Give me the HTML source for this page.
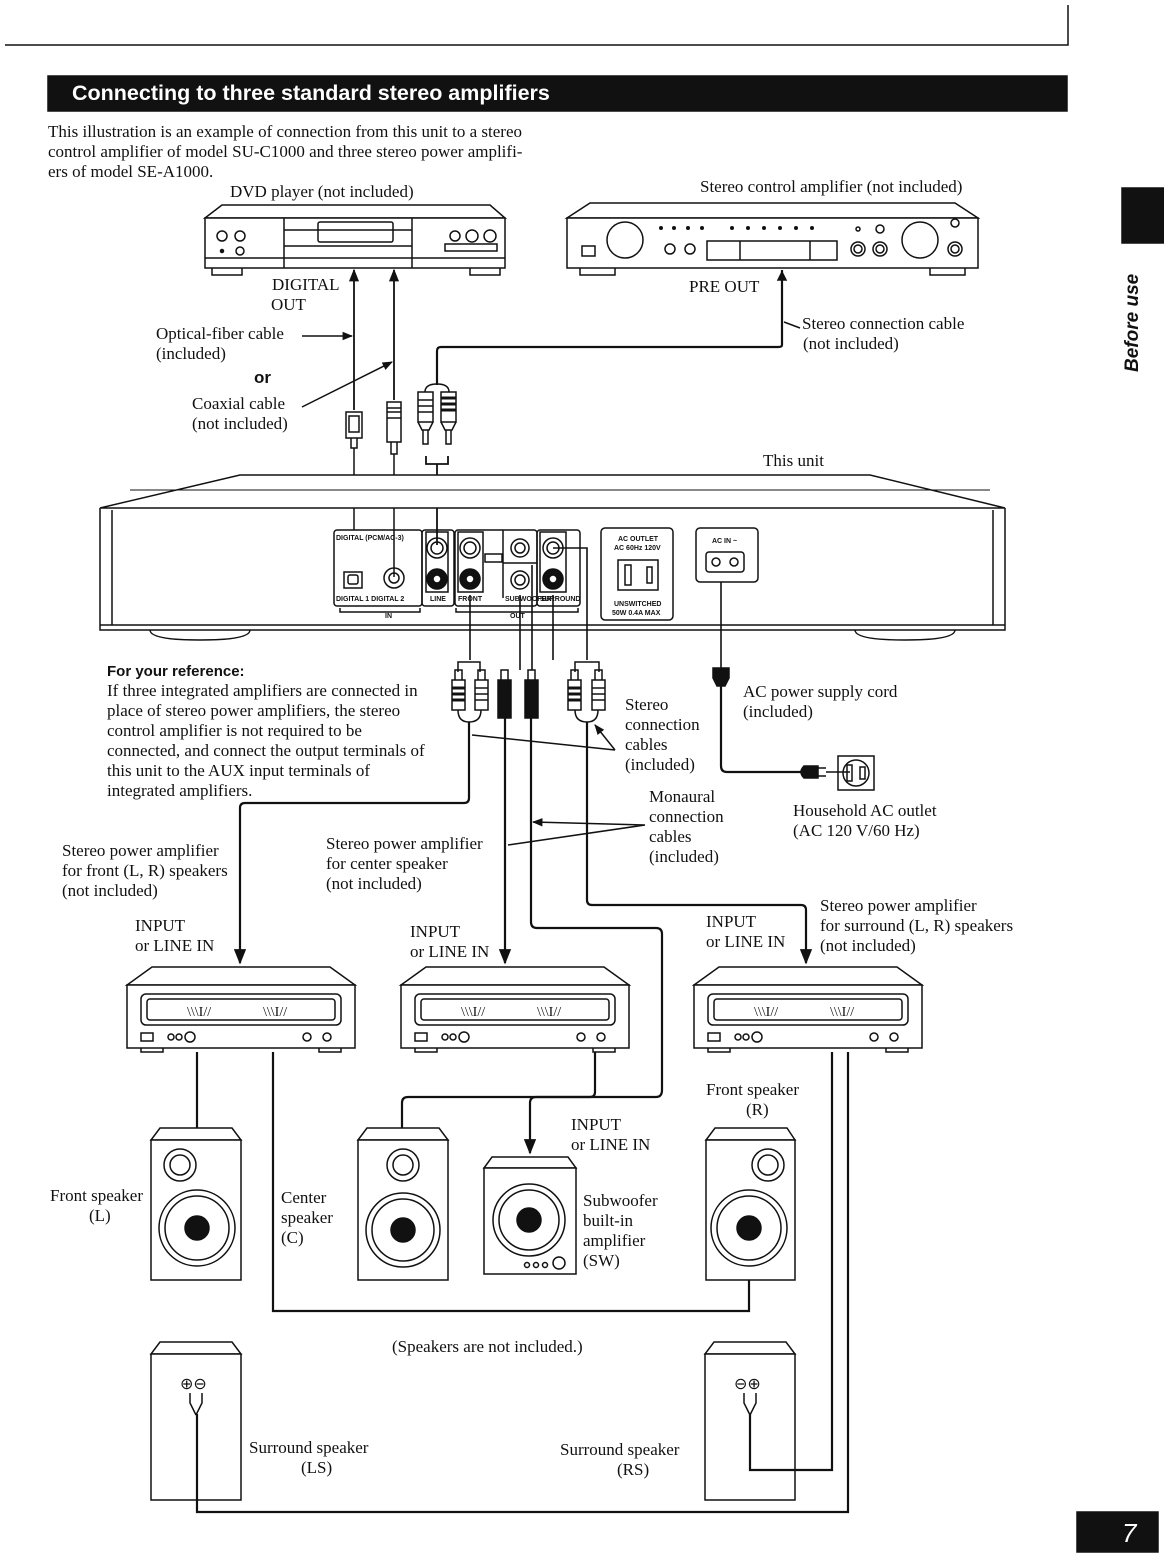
<!DOCTYPE html>
<html><head><meta charset="utf-8"><style>
html,body{margin:0;padding:0;background:#fff}
svg{display:block}
text{font-family:"Liberation Serif",serif;font-size:17px;fill:#111;stroke:none}
.s{font-family:"Liberation Sans",sans-serif}
.m{font-family:"Liberation Sans",sans-serif;font-size:7px;font-weight:bold}
</style></head><body>
<svg width="1164" height="1568" viewBox="0 0 1164 1568" xmlns="http://www.w3.org/2000/svg" fill="none" stroke="#111" stroke-width="1.5">
<defs>
<marker id="ar" viewBox="0 0 10 10" refX="9" refY="5" markerWidth="7" markerHeight="7" orient="auto-start-reverse"><path d="M0,1 L10,5 L0,9z" fill="#111" stroke="none"/></marker>
<g id="amp">
<path d="M25,0 H203 L228,18 H0 Z" fill="#fff"/>
<rect x="0" y="18" width="228" height="63" fill="#fff"/>
<rect x="14" y="27" width="200" height="31" rx="5"/>
<rect x="20" y="32" width="188" height="21" rx="3"/>
<text x="60" y="49" style="font-size:14px">\\\I//</text>
<text x="136" y="49" style="font-size:14px">\\\I//</text>
<rect x="14" y="66" width="12" height="8"/>
<circle cx="44" cy="70" r="3"/><circle cx="52" cy="70" r="3"/><circle cx="63" cy="70" r="5"/>
<circle cx="180" cy="70" r="4"/><circle cx="200" cy="70" r="4"/>
<path d="M14,81 v4 h22 v-4 M192,81 v4 h22 v-4"/>
</g>
</defs>

<!-- header -->
<path d="M5,45 H1068 V5"/>
<rect x="48" y="76" width="1019" height="35" fill="#111"/>
<text x="72" y="100" class="s" style="font-size:21.5px;font-weight:bold;fill:#fff">Connecting to three standard stereo amplifiers</text>
<text x="48" y="137" style="font-size:17px">This illustration is an example of connection from this unit to a stereo</text>
<text x="48" y="157" style="font-size:17px">control amplifier of model SU-C1000 and three stereo power amplifi-</text>
<text x="48" y="177" style="font-size:17px">ers of model SE-A1000.</text>
<rect x="1122" y="188" width="42" height="55" fill="#111"/>
<text transform="translate(1138,372) rotate(-90)" class="s" style="font-size:19px;font-weight:bold;font-style:italic">Before use</text>
<rect x="1077" y="1512" width="81" height="40" fill="#111"/>
<text x="1122" y="1542" class="s" style="font-size:26px;font-style:italic;fill:#fff">7</text>

<!-- DVD player -->
<text x="230" y="197">DVD player (not included)</text>
<path d="M222,205 H490 L505,218 H205 Z"/>
<rect x="205" y="218" width="300" height="50" fill="#fff"/>
<path d="M284,218 V268 M412,218 V268 M205,258 H505"/>
<rect x="318" y="222" width="75" height="20" rx="2"/>
<path d="M284,230 H412 M284,246 H412"/>
<circle cx="222" cy="236" r="5"/><circle cx="240" cy="236" r="5"/><circle cx="240" cy="251" r="4"/><circle cx="222" cy="251" r="1.5" fill="#111"/>
<circle cx="455" cy="236" r="5"/><circle cx="472" cy="236" r="6"/><circle cx="490" cy="236" r="6"/>
<rect x="445" y="244" width="52" height="7"/>
<path d="M212,268 v7 h30 v-7 M470,268 v7 h30 v-7"/>
<text x="272" y="290">DIGITAL</text>
<text x="271" y="310">OUT</text>

<!-- Stereo control amplifier -->
<text x="700" y="192">Stereo control amplifier (not included)</text>
<path d="M590,203 H955 L978,218 H567 Z"/>
<rect x="567" y="218" width="411" height="50" fill="#fff"/>
<circle cx="625" cy="240" r="18"/><circle cx="920" cy="240" r="18"/>
<rect x="582" y="246" width="13" height="10"/>
<g fill="#111" stroke="none"><circle cx="661" cy="228" r="2"/><circle cx="674" cy="228" r="2"/><circle cx="688" cy="228" r="2"/><circle cx="702" cy="228" r="2"/><circle cx="732" cy="228" r="2"/><circle cx="748" cy="228" r="2"/><circle cx="764" cy="228" r="2"/><circle cx="780" cy="228" r="2"/><circle cx="796" cy="228" r="2"/><circle cx="812" cy="228" r="2"/></g>
<circle cx="670" cy="249" r="5"/><circle cx="690" cy="249" r="5"/>
<rect x="707" y="241" width="130" height="19"/><path d="M740,241 V260 M810,241 V260"/>
<circle cx="858" cy="229" r="2"/><circle cx="880" cy="229" r="4"/><circle cx="955" cy="223" r="4"/>
<circle cx="858" cy="249" r="7"/><circle cx="880" cy="249" r="7"/><circle cx="955" cy="249" r="7"/>
<circle cx="858" cy="249" r="4"/><circle cx="880" cy="249" r="4"/><circle cx="955" cy="249" r="4"/>
<path d="M580,268 v7 h35 v-7 M930,268 v7 h35 v-7"/>
<text x="689" y="292">PRE OUT</text>

<!-- cables top -->
<path d="M354,270 V410" marker-start="url(#ar)" stroke-width="1.8"/>
<path d="M394,270 V400" marker-start="url(#ar)" stroke-width="1.8"/>
<path d="M782,270 V345 Q782,347 778,347 H441 Q437,347 437,351 V385" stroke-width="2.2"/>
<path d="M782,272 l-4,8 h8 z" fill="#111"/>
<text x="802" y="329">Stereo connection cable</text>
<text x="803" y="349">(not included)</text>
<path d="M800,328 L784,322"/>
<text x="156" y="339">Optical-fiber cable</text>
<text x="156" y="359">(included)</text>
<path d="M302,336 H352" marker-end="url(#ar)"/>
<text x="254" y="383" class="s" style="font-size:17px;font-weight:bold">or</text>
<text x="192" y="409">Coaxial cable</text>
<text x="192" y="429">(not included)</text>
<path d="M302,407 L392,362" marker-end="url(#ar)"/>
<!-- plugs -->
<rect x="346" y="412" width="16" height="26" fill="#fff"/><rect x="349" y="416" width="10" height="16"/>
<path d="M351,438 v10 h6 v-10"/><path d="M354,448 V530"/>
<rect x="387" y="402" width="14" height="40" fill="#fff"/><path d="M387,408 h14 M387,412 h14 M387,418 h14"/>
<path d="M391,442 v12 h6 v-12"/><path d="M394,454 V577"/>
<path d="M425,392 Q425,384 437,384 Q449,384 449,392"/>
<rect x="418" y="392" width="15" height="30" fill="#fff"/><rect x="441" y="392" width="15" height="30" fill="#fff"/>
<path d="M441,398 h15 M441,404 h15 M441,410 h15" stroke-width="3"/><path d="M418,400 h15 M418,406 h15 M418,412 h15"/>
<path d="M418,422 l4,8 h7 l4,-8 M441,422 l4,8 h7 l4,-8 M423,430 v14 h5 v-14 M446,430 v14 h5 v-14"/>
<path d="M426,456 v8 h22 v-8 M437,464 V545" stroke-width="1.8"/>
<text x="763" y="466">This unit</text>

<!-- main unit -->
<path d="M240,475 H870 L1005,508 H100 Z" fill="#fff"/>
<path d="M130,490 H990" stroke-width="1"/>
<path d="M100,508 V630 H1005 V508 M112,510 V625 M993,510 V625 M100,625 H1005"/>
<path d="M150,630 Q150,640 200,640 Q250,640 250,630 M855,630 Q855,640 905,640 Q955,640 955,630"/>
<rect x="334" y="530" width="88" height="76" rx="3"/>
<text x="336" y="540" class="m">DIGITAL (PCM/AC-3)</text>
<rect x="344" y="572" width="18" height="16"/><rect x="348" y="575" width="10" height="9" rx="2"/>
<circle cx="394" cy="578" r="10"/><circle cx="394" cy="578" r="5"/>
<text x="336" y="601" class="m">DIGITAL 1 DIGITAL 2</text>
<rect x="422" y="530" width="32" height="76" rx="3"/>
<rect x="426" y="532" width="22" height="60"/>
<circle cx="437" cy="548" r="10"/><circle cx="437" cy="548" r="6"/>
<circle cx="437" cy="579" r="10" fill="#111"/><circle cx="437" cy="579" r="4" fill="#fff"/>
<text x="430" y="601" class="m">LINE</text>
<rect x="455" y="530" width="82" height="76" rx="3"/>
<rect x="458" y="532" width="25" height="60"/>
<circle cx="470" cy="548" r="10"/><circle cx="470" cy="548" r="6"/>
<circle cx="470" cy="579" r="10" fill="#111"/><circle cx="470" cy="579" r="4" fill="#fff"/>
<text x="458" y="601" class="m">FRONT</text>
<path d="M503,530 V598 M503,563 H537"/>
<circle cx="520" cy="548" r="9"/><circle cx="520" cy="548" r="5"/>
<circle cx="520" cy="580" r="9"/><circle cx="520" cy="580" r="5"/>
<text x="505" y="601" class="m">SUBWOOFER</text>
<rect x="485" y="554" width="17" height="8"/>
<rect x="537" y="530" width="43" height="76" rx="3"/>
<rect x="540" y="532" width="26" height="60"/>
<circle cx="553" cy="548" r="10"/><circle cx="553" cy="548" r="6"/>
<circle cx="553" cy="579" r="10" fill="#111"/><circle cx="553" cy="579" r="4" fill="#fff"/>
<text x="540" y="601" class="m">SURROUND</text>
<path d="M340,608 v4 h80 v-4 M456,608 v4 h122 v-4"/>
<text x="385" y="618" class="m">IN</text><text x="510" y="618" class="m">OUT</text>
<rect x="601" y="528" width="72" height="92" rx="4"/>
<text x="618" y="541" class="m">AC OUTLET</text><text x="614" y="550" class="m">AC 60Hz 120V</text>
<rect x="618" y="560" width="40" height="30"/><rect x="625" y="565" width="6" height="20"/><rect x="647" y="567" width="5" height="16"/>
<text x="614" y="606" class="m">UNSWITCHED</text><text x="612" y="615" class="m">50W 0.4A MAX</text>
<rect x="696" y="528" width="62" height="54" rx="4"/>
<text x="712" y="543" class="m">AC IN ~</text>
<rect x="706" y="552" width="38" height="20" rx="3"/><circle cx="716" cy="562" r="4"/><circle cx="734" cy="562" r="4"/>

<!-- output cables -->
<path d="M470,595 V660 M520,595 V670 M532,565 V670 M553,595 V660 M553,548 H587 V660" stroke-width="1.6"/>
<path d="M458,672 v-10 h22 v10 M575,672 v-10 h24 v10"/>
<g fill="#fff">
<rect x="452" y="680" width="13" height="30"/><rect x="475" y="680" width="13" height="30"/>
<rect x="498" y="680" width="13" height="38" fill="#111"/><rect x="525" y="680" width="13" height="38" fill="#111"/>
<rect x="568" y="680" width="13" height="30"/><rect x="592" y="680" width="13" height="30"/>
</g>
<path d="M455,680 v-10 h7 v10 M478,680 v-10 h7 v10 M501,680 v-10 h7 v10 M528,680 v-10 h7 v10 M571,680 v-10 h7 v10 M595,680 v-10 h7 v10"/>
<path d="M452,688 h13 M452,694 h13 M452,700 h13 M568,688 h13 M568,694 h13 M568,700 h13" stroke-width="3"/>
<path d="M475,688 h13 M475,694 h13 M475,700 h13 M592,688 h13 M592,694 h13 M592,700 h13"/>
<path d="M458,710 Q458,722 469,722 Q481,722 481,710 M575,710 Q575,722 587,722 Q598,722 598,710"/>
<path d="M469,722 V798 Q469,803 464,803 H245 Q240,803 240,808 V963" stroke-width="2.2" marker-end="url(#ar)"/>
<path d="M505,718 V963" stroke-width="2.2" marker-end="url(#ar)"/>
<path d="M531,718 V922 Q531,928 537,928 H656 Q662,928 662,934 V1090 Q662,1097 656,1097 H536 Q530,1097 530,1103 V1153" stroke-width="2.2" marker-end="url(#ar)"/>
<path d="M587,722 V900 Q587,905 592,905 H801 Q806,905 806,910 V963" stroke-width="2.2" marker-end="url(#ar)"/>
<path d="M615,750 L472,735 M615,750 L595,725" marker-end="url(#ar)"/>
<path d="M645,825 L508,845 M645,825 L533,822" marker-end="url(#ar)"/>
<text x="625" y="710">Stereo</text><text x="625" y="730">connection</text><text x="625" y="750">cables</text><text x="625" y="770">(included)</text>
<text x="649" y="802">Monaural</text><text x="649" y="822">connection</text><text x="649" y="842">cables</text><text x="649" y="862">(included)</text>

<!-- AC cord -->
<path d="M721,582 V668" stroke-width="1.6"/>
<path d="M713,668 h16 v10 l-4,8 h-8 l-4,-8z" fill="#111"/>
<path d="M721,686 V766 Q721,772 727,772 H805" stroke-width="2.2"/>
<path d="M804,766 h14 v12 h-14 q-6,-6 0,-12z" fill="#111"/><path d="M818,768 h8 M818,776 h8 M826,772 h24"/>
<rect x="838" y="756" width="36" height="34"/><circle cx="856" cy="773" r="13"/><rect x="847" y="765" width="5" height="16"/><rect x="860" y="767" width="5" height="12"/>
<text x="743" y="697">AC power supply cord</text><text x="743" y="717">(included)</text>
<text x="793" y="816">Household AC outlet</text><text x="793" y="836">(AC 120 V/60 Hz)</text>

<!-- reference text -->
<text x="107" y="676" class="s" style="font-size:15px;font-weight:bold">For your reference:</text>
<text x="107" y="696">If three integrated amplifiers are connected in</text>
<text x="107" y="716">place of stereo power amplifiers, the stereo</text>
<text x="107" y="736">control amplifier is not required to be</text>
<text x="107" y="756">connected, and connect the output terminals of</text>
<text x="107" y="776">this unit to the AUX input terminals of</text>
<text x="107" y="796">integrated amplifiers.</text>

<text x="62" y="856">Stereo power amplifier</text><text x="62" y="876">for front (L, R) speakers</text><text x="62" y="896">(not included)</text>
<text x="326" y="849">Stereo power amplifier</text><text x="326" y="869">for center speaker</text><text x="326" y="889">(not included)</text>
<text x="820" y="911">Stereo power amplifier</text><text x="820" y="931">for surround (L, R) speakers</text><text x="820" y="951">(not included)</text>
<text x="135" y="931">INPUT</text><text x="135" y="951">or LINE IN</text>
<text x="410" y="937">INPUT</text><text x="410" y="957">or LINE IN</text>
<text x="706" y="927">INPUT</text><text x="706" y="947">or LINE IN</text>

<!-- amps -->
<use href="#amp" x="127" y="967"/>
<use href="#amp" x="401" y="967"/>
<use href="#amp" x="694" y="967"/>

<!-- speaker wires -->
<g stroke-width="2.2">
<path d="M197,1052 V1128"/>
<path d="M273,1052 V1311 H749 V1280"/>
<path d="M595,1052 V1092 Q595,1097 590,1097 H408 Q402,1097 402,1103 V1128"/>
</g>

<!-- speakers -->
<g fill="#fff">
<path d="M160,1128 H232 L241,1140 H151 Z"/><rect x="151" y="1140" width="90" height="140"/>
<path d="M367,1128 H439 L448,1140 H358 Z"/><rect x="358" y="1140" width="90" height="140"/>
<path d="M715,1128 H787 L795,1140 H706 Z"/><rect x="706" y="1140" width="89" height="140"/>
<path d="M492,1157 H568 L576,1168 H484 Z"/><rect x="484" y="1168" width="92" height="106"/>
</g>
<circle cx="180" cy="1165" r="16"/><circle cx="180" cy="1165" r="10"/>
<circle cx="197" cy="1228" r="38"/><circle cx="197" cy="1228" r="32"/><circle cx="197" cy="1228" r="12" fill="#111"/>
<circle cx="403" cy="1165" r="16"/><circle cx="403" cy="1165" r="10"/>
<circle cx="403" cy="1230" r="37"/><circle cx="403" cy="1230" r="31"/><circle cx="403" cy="1230" r="12" fill="#111"/>
<circle cx="768" cy="1165" r="16"/><circle cx="768" cy="1165" r="10"/>
<circle cx="749" cy="1228" r="38"/><circle cx="749" cy="1228" r="32"/><circle cx="749" cy="1228" r="12" fill="#111"/>
<circle cx="529" cy="1220" r="36"/><circle cx="529" cy="1220" r="30"/><circle cx="529" cy="1220" r="12" fill="#111"/>
<circle cx="527" cy="1265" r="2.5"/><circle cx="536" cy="1265" r="2.5"/><circle cx="545" cy="1265" r="2.5"/><circle cx="559" cy="1263" r="6"/>
<text x="50" y="1201">Front speaker</text><text x="89" y="1221">(L)</text>
<text x="281" y="1203">Center</text><text x="281" y="1223">speaker</text><text x="281" y="1243">(C)</text>
<text x="571" y="1130">INPUT</text><text x="571" y="1150">or LINE IN</text>
<text x="583" y="1206">Subwoofer</text><text x="583" y="1226">built-in</text><text x="583" y="1246">amplifier</text><text x="583" y="1266">(SW)</text>
<text x="706" y="1095">Front speaker</text><text x="746" y="1115">(R)</text>
<text x="392" y="1352">(Speakers are not included.)</text>

<!-- surround speakers -->
<g fill="#fff">
<path d="M160,1342 H232 L241,1354 H151 Z"/><rect x="151" y="1354" width="90" height="146"/>
<path d="M714,1342 H786 L795,1354 H705 Z"/><rect x="705" y="1354" width="90" height="146"/>
</g>
<text x="180" y="1389" class="s" style="font-size:16px">⊕⊖</text>
<text x="734" y="1389" class="s" style="font-size:16px">⊖⊕</text>
<path d="M190,1393 v10 l6,12 M202,1393 v10 l-6,12 M744,1393 v10 l6,12 M756,1393 v10 l-6,12"/>
<g stroke-width="2.2">
<path d="M832,1052 V1470 H750 V1414"/>
<path d="M848,1052 V1512 H197 V1414"/>
</g>
<text x="249" y="1453">Surround speaker</text><text x="301" y="1473">(LS)</text>
<text x="560" y="1455">Surround speaker</text><text x="617" y="1475">(RS)</text>
</svg>
</body></html>
